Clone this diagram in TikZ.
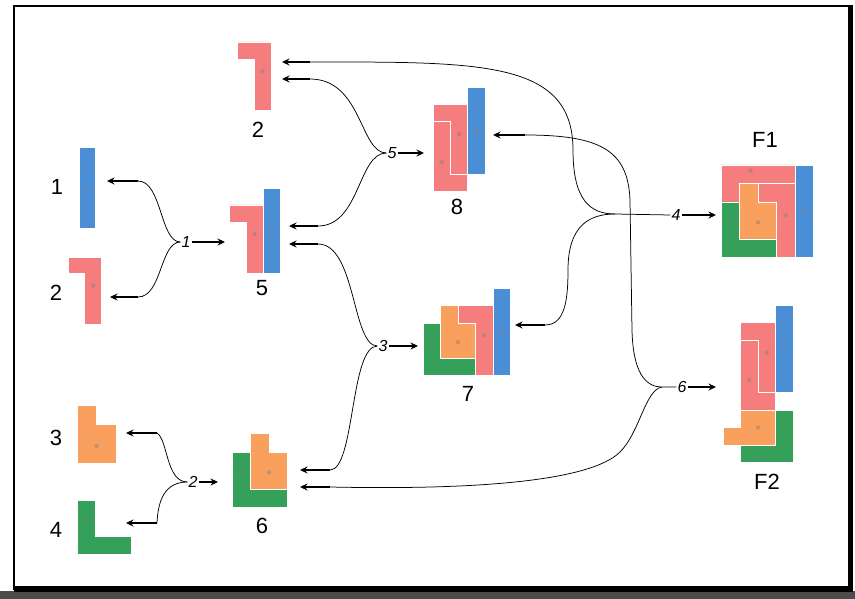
\documentclass[tikz,border=0pt]{standalone}
\usepackage{fontspec}
\setmainfont{Liberation Sans}
\usetikzlibrary{arrows.meta}
\definecolor{pblue}{RGB}{74,142,214}
\definecolor{ppink}{RGB}{245,125,125}
\definecolor{porange}{RGB}{250,160,95}
\definecolor{pgreen}{RGB}{52,160,90}
\tikzset{
  piece/.style={draw=white, line width=0.7pt, line join=miter},
  dotmark/.style={fill=gray, opacity=0.45},
  lab/.style={font=\fontsize{22}{26}\selectfont, inner sep=0pt},
  oplab/.style={font=\itshape\fontsize{16}{18}\selectfont, inner sep=1pt},
  link/.style={line width=0.75pt},
  push/.style={line width=1.5pt, -{Stealth[length=7.5pt,width=7pt]}},
  pics/barI/.style={code={
    \filldraw[fill=pblue, piece] (0,0) rectangle (1,5);
    \fill[dotmark] (0.5,2.5) circle[radius=2.2pt];}},
  pics/sevenP/.style={code={
    \filldraw[fill=ppink, piece] (0,0) -- (2,0) -- (2,4) -- (1,4) -- (1,1) -- (0,1) -- cycle;
    \fill[dotmark] (1.5,1.7) circle[radius=2.2pt];}},
  pics/ellP/.style={code={
    \filldraw[fill=ppink, piece] (0,0) -- (1,0) -- (1,3) -- (2,3) -- (2,4) -- (0,4) -- cycle;
    \fill[dotmark] (0.5,2.3) circle[radius=2.2pt];}},
  pics/orangeP/.style={code={
    \filldraw[fill=porange, piece] (0,0) -- (1,0) -- (1,1) -- (2,1) -- (2,3) -- (0,3) -- cycle;
    \fill[dotmark] (1,2.1) circle[radius=2.2pt];}},
  pics/greenL/.style={code={
    \filldraw[fill=pgreen, piece] (0,0) -- (1,0) -- (1,2) -- (3,2) -- (3,3) -- (0,3) -- cycle;
    \fill[dotmark] (0.5,1.15) circle[radius=2.2pt];}},
}
\begin{document}
\begin{tikzpicture}[x=1pt, y=-1pt]
\useasboundingbox (0,0) rectangle (855,599);
\fill[white] (0,0) rectangle (855,599);
% frame
\fill[black!70] (0,591) rectangle (855,599);
\draw[line width=2pt] (14,6) rectangle (851,589);
\fill[black] (14,586) rectangle (853,592);
\fill[black] (848,5) rectangle (853,592);

% ---------- pieces ----------
% piece 1
\begin{scope}[shift={(79,147)}, x=16.3pt, y=-16.3pt]
  \pic at (0,0) {barI};
\end{scope}
% piece 2 (left)
\begin{scope}[shift={(68,257)}, x=16.8pt, y=-16.8pt]
  \pic at (0,0) {sevenP};
\end{scope}
% piece 3
\begin{scope}[shift={(77,405)}, x=19.5pt, y=-19.5pt]
  \pic at (0,0) {orangeP};
\end{scope}
% piece 4
\begin{scope}[shift={(77,500)}, x=18pt, y=-18pt]
  \pic at (0,0) {greenL};
\end{scope}
% piece 2 (top)
\begin{scope}[shift={(237,42)}, x=17pt, y=-17pt]
  \pic at (0,0) {sevenP};
\end{scope}
% piece 5
\begin{scope}[shift={(229,188)}, x=17pt, y=-17pt]
  \pic at (0,1) {sevenP};
  \pic at (2,0) {barI};
\end{scope}
% piece 6
\begin{scope}[shift={(232,452)}, x=18.5pt, y=-18.5pt]
  \pic at (0,0) {greenL};
  \pic at (1,-1) {orangeP};
\end{scope}
% piece 8
\begin{scope}[shift={(433,87)}, x=17.4pt, y=-17.4pt]
  \pic at (0,1) {sevenP};
  \pic at (0,2) {ellP};
  \pic at (2,0) {barI};
\end{scope}
% piece 7
\begin{scope}[shift={(423,323)}, x=17.5pt, y=-17.5pt]
  \pic at (0,0) {greenL};
  \pic at (1,-1) {orangeP};
  \pic at (2,-1) {sevenP};
  \pic at (4,-2) {barI};
\end{scope}
% F1
\begin{scope}[shift={(721,165)}, x=18.5pt, y=-18.5pt]
  \filldraw[fill=ppink, piece] (0,0) -- (4,0) -- (4,1) -- (1,1) -- (1,2) -- (0,2) -- cycle;
  \fill[dotmark] (1.6,0.3) circle[radius=2.2pt];
  \pic at (2,1) {sevenP};
  \pic at (1,1) {orangeP};
  \pic at (0,2) {greenL};
  \pic at (4,0) {barI};
\end{scope}
% F2
\begin{scope}[shift={(723,305)}, x=17.5pt, y=-17.5pt]
  \pic at (1,1) {sevenP};
  \pic at (1,2) {ellP};
  \pic at (3,0) {barI};
  \filldraw[fill=porange, piece] (1,6) -- (3,6) -- (3,8) -- (0,8) -- (0,7) -- (1,7) -- cycle;
  \fill[dotmark] (2,7) circle[radius=2.2pt];
  \filldraw[fill=pgreen, piece] (3,6) -- (4,6) -- (4,9) -- (1,9) -- (1,8) -- (3,8) -- cycle;
  \fill[dotmark] (2,8.7) circle[radius=2.2pt];
\end{scope}

% ---------- piece labels ----------
\node[lab] (n1) at (57,187) {1};
\node[lab] (n2a) at (56,293) {2};
\node[lab] (n3) at (56,438) {3};
\node[lab] (n4) at (56,530) {4};
\node[lab] (n2b) at (258,130) {2};
\node[lab] (n5) at (262,288) {5};
\node[lab] (n8) at (457,207) {8};
\node[lab] (n7) at (468,394) {7};
\node[lab] (n6) at (262,526) {6};
\node[lab] (nF1) at (765,140) {F1};
\node[lab] (nF2) at (767,482) {F2};

% ---------- operation labels ----------
\node[oplab] (o1) at (186,242) {1};
\node[oplab] (o2) at (193,482) {2};
\node[oplab] (o5) at (392,153) {5};
\node[oplab] (o3) at (383,346) {3};
\node[oplab] (o4) at (676,215) {4};
\node[oplab] (o6) at (682,387) {6};

% ---------- coordinates ----------
\coordinate (t1a) at (138,181); \coordinate (h1a) at (107,181);
\coordinate (t1b) at (138,297); \coordinate (h1b) at (110,297);
\coordinate (h1c) at (225,242);
\coordinate (t2a) at (157,433); \coordinate (h2a) at (126,433);
\coordinate (t2b) at (157,523); \coordinate (h2b) at (126,523);
\coordinate (h2c) at (218,482);
\coordinate (t5a) at (310,79);  \coordinate (h5a) at (282,79);
\coordinate (t5b) at (318,226); \coordinate (h5b) at (289,226);
\coordinate (h5c) at (424,153);
\coordinate (t3a) at (318,244); \coordinate (h3a) at (289,244);
\coordinate (t3b) at (330,470); \coordinate (h3b) at (300,470);
\coordinate (h3c) at (418,346);
\coordinate (t4a) at (310,62);  \coordinate (h4a) at (282,62);
\coordinate (t4b) at (545,325); \coordinate (h4b) at (515,325);
\coordinate (c4a) at (573,150); \coordinate (c4b) at (568,270);
\coordinate (j4) at (615,214);  \coordinate (h4c) at (716,215);
\coordinate (t6a) at (525,135); \coordinate (h6a) at (493,135);
\coordinate (t6b) at (330,487); \coordinate (h6b) at (300,487);
\coordinate (c6a) at (630,200); \coordinate (c6d) at (632,330);
\coordinate (c6b) at (620,452);
\coordinate (j6) at (662,387);  \coordinate (h6c) at (716,387);

% ---------- connectors ----------
% op 1
\draw[link] (o1.west) .. controls (160,242) and (162,181) .. (t1a);
\draw[link] (o1.west) .. controls (160,242) and (162,297) .. (t1b);
\draw[push] (t1a) -- (h1a);
\draw[push] (t1b) -- (h1b);
\draw[push] (o1.east) -- (h1c);
% op 2
\draw[link] (o2.west) .. controls (166,482) and (168,440) .. (t2a);
\draw[link] (o2.west) .. controls (165,482) and (158,500) .. (t2b);
\draw[push] (t2a) -- (h2a);
\draw[push] (t2b) -- (h2b);
\draw[push] (o2.east) -- (h2c);
% op 5
\draw[link] (o5.west) .. controls (360,153) and (362,79) .. (t5a);
\draw[link] (o5.west) .. controls (358,153) and (360,226) .. (t5b);
\draw[push] (t5a) -- (h5a);
\draw[push] (t5b) -- (h5b);
\draw[push] (o5.east) -- (h5c);
% op 3
\draw[link] (o3.west) .. controls (352,346) and (356,244) .. (t3a);
\draw[link] (o3.west) .. controls (350,346) and (355,470) .. (t3b);
\draw[push] (t3a) -- (h3a);
\draw[push] (t3b) -- (h3b);
\draw[push] (o3.east) -- (h3c);
% op 4
\draw[link] (t4a) .. controls (480,62) and (573,60) .. (c4a) .. controls (573,200) and (590,214) .. (j4) -- (o4.west);
\draw[link] (t4b) .. controls (565,325) and (568,300) .. (c4b) .. controls (568,225) and (590,214) .. (j4);
\draw[push] (t4a) -- (h4a);
\draw[push] (t4b) -- (h4b);
\draw[push] (o4.east) -- (h4c);
% op 6
\draw[link] (t6a) .. controls (600,135) and (628,150) .. (c6a) -- (c6d) .. controls (633,372) and (645,387) .. (j6) -- (o6.west);
\draw[link] (t6b) .. controls (470,490) and (590,482) .. (c6b) .. controls (640,432) and (645,390) .. (j6);
\draw[push] (t6a) -- (h6a);
\draw[push] (t6b) -- (h6b);
\draw[push] (o6.east) -- (h6c);
\end{tikzpicture}
\end{document}
